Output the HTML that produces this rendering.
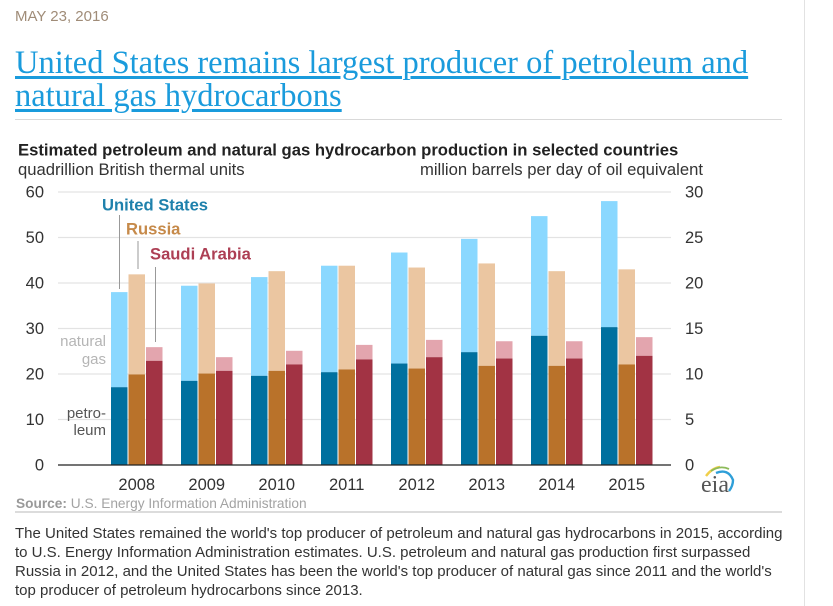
<!DOCTYPE html>
<html>
<head>
<meta charset="utf-8">
<style>
html,body{margin:0;padding:0;background:#fff;}
#page{position:relative;width:833px;height:606px;overflow:hidden;background:#fff;font-family:"Liberation Sans",sans-serif;}
.abs{position:absolute;white-space:nowrap;}
#title{left:15px;top:47px;font:32.5px/33px "Liberation Serif",serif;color:#1a9bdc;}
#title a{color:#1a9bdc;text-decoration:underline;text-decoration-thickness:3px;text-underline-offset:3px;}
#body-text{left:15px;top:524px;font:15px/19px "Liberation Sans",sans-serif;color:#333;}
svg{position:absolute;left:0;top:0;}
svg text{font-family:"Liberation Sans",sans-serif;}
</style>
</head>
<body>
<div id="page">
  <div class="abs" id="date" style="left:15px;top:9px;font-size:15px;line-height:16px;color:#a08c78;">MAY 23, 2016</div>
  <div class="abs" id="title"><a href="#">United States remains largest producer of petroleum and<br>natural gas hydrocarbons</a></div>
  <div class="abs" style="left:15px;top:119px;width:767px;height:1px;background:#d9d9d9;"></div>
  <div class="abs" style="left:804px;top:0;width:1px;height:606px;background:#e2e2e2;"></div>
  <svg id="chart" width="833" height="606" viewBox="0 0 833 606">
    <text x="18" y="155.5" font-size="16.65" font-weight="bold" fill="#222">Estimated petroleum and natural gas hydrocarbon production in selected countries</text>
    <text x="18" y="175" font-size="16.65" fill="#333">quadrillion British thermal units</text>
    <text x="703" y="175" font-size="16.65" fill="#333" text-anchor="end">million barrels per day of oil equivalent</text>
    <g id="grid"></g>
    <g id="bars"></g>
    <g id="xlabels"></g>
    <line x1="119.5" y1="215" x2="119.5" y2="289" stroke="#999" stroke-width="1"></line>
    <line x1="138" y1="241" x2="138" y2="269" stroke="#999" stroke-width="1"></line>
    <line x1="155.5" y1="267" x2="155.5" y2="342" stroke="#999" stroke-width="1"></line>
    <text x="102" y="210.5" font-size="16.6" font-weight="bold" fill="#1f81ac">United States</text>
    <text x="126" y="234.5" font-size="16.6" font-weight="bold" fill="#c68a4a">Russia</text>
    <text x="150" y="259.5" font-size="16.6" font-weight="bold" fill="#ad3f54">Saudi Arabia</text>
    <text x="106" y="346" font-size="15" fill="#b5b5b5" text-anchor="end">natural</text>
    <text x="106" y="364" font-size="15" fill="#b5b5b5" text-anchor="end">gas</text>
    <text x="106" y="418" font-size="15" fill="#555" text-anchor="end">petro-</text>
    <text x="106" y="435" font-size="15" fill="#555" text-anchor="end">leum</text>
    <g>
      <path d="M706 476 Q712 468 720 467" fill="none" stroke="#f0cf4a" stroke-width="2.4"></path>
      <path d="M711 471 Q720 465 729 469" fill="none" stroke="#8dbb5a" stroke-width="1.8"></path>
      <path d="M716 473 Q728 468 733 480 Q733 486 729 491" fill="none" stroke="#2f9fd8" stroke-width="2.4"></path>
      <text x="701" y="492" font-size="24" fill="#555" style="font-family:'Liberation Serif',serif">eia</text>
    </g>
    <text x="16" y="508" font-size="13.7" fill="#a3a3a3"><tspan font-weight="bold" fill="#999">Source:</tspan> U.S. Energy Information Administration</text>
    <rect x="15" y="511" width="767" height="2" fill="#dcdcdc"></rect>
  </svg>
  <div class="abs" id="body-text">The United States remained the world's top producer of petroleum and natural gas hydrocarbons in 2015, according<br>to U.S. Energy Information Administration estimates. U.S. petroleum and natural gas production first surpassed<br>Russia in 2012, and the United States has been the world's top producer of natural gas since 2011 and the world's<br>top producer of petroleum hydrocarbons since 2013.</div>
</div>
<script>
const years = ['2008','2009','2010','2011','2012','2013','2014','2015'];
const usPetroleum = [17.1,18.5,19.6,20.4,22.3,24.8,28.4,30.3];
const usTotal = [38.0,39.4,41.3,43.8,46.7,49.7,54.7,58.0];
const russiaPetroleum = [19.9,20.1,20.7,21.0,21.2,21.8,21.8,22.1];
const russiaTotal = [41.9,39.9,42.6,43.8,43.4,44.3,42.6,43.0];
const saudiPetroleum = [22.9,20.7,22.1,23.2,23.7,23.4,23.4,24.0];
const saudiTotal = [25.9,23.7,25.1,26.4,27.5,27.2,27.2,28.1];
const leftTicks = [0,10,20,30,40,50,60];
const rightTicks = ['0','5','10','15','20','25','30'];

const NS = 'http://www.w3.org/2000/svg';
const yScale = function (v) { return 465 - v * (273 / 60); };
const xScale = function (yearIndex, seriesIndex) { return 111 + yearIndex * 70 + seriesIndex * 17.5; };
const barWidth = 16.5;
const gridGroup = document.getElementById('grid');
const barGroup = document.getElementById('bars');
const labelGroup = document.getElementById('xlabels');

leftTicks.forEach(function (t, i) {
  const y = yScale(t);
  if (t !== 0) {
    const line = document.createElementNS(NS, 'line');
    
    
    line.setAttribute('x1', 58);
    line.setAttribute('x2', 671);
    line.setAttribute('y1', y);
    line.setAttribute('y2', y);
    line.setAttribute('stroke', '#e3e3e3');
    line.setAttribute('stroke-width', '1.2');
    gridGroup.appendChild(line);
  }
  const left = document.createElementNS(NS, 'text');
  
  
  left.setAttribute('x', 44);
  left.setAttribute('y', y + 5.5);
  left.setAttribute('text-anchor', 'end');
  left.setAttribute('font-size', '16.5');
  left.setAttribute('fill', '#333');
  left.textContent = t;
  gridGroup.appendChild(left);
  const right = document.createElementNS(NS, 'text');
  
  
  right.setAttribute('x', 685);
  right.setAttribute('y', y + 5.5);
  right.setAttribute('font-size', '16.5');
  right.setAttribute('fill', '#333');
  right.textContent = rightTicks[i];
  gridGroup.appendChild(right);
});

const seriesList = [
  { key: 'us', petroleum: usPetroleum, total: usTotal, dark: '#00709f', light: '#8ad8ff' },
  { key: 'russia', petroleum: russiaPetroleum, total: russiaTotal, dark: '#b9722a', light: '#ebc6a1' },
  { key: 'saudi', petroleum: saudiPetroleum, total: saudiTotal, dark: '#a23344', light: '#e3a5ae' }
];

function addBar(parent, name, x, fromValue, toValue, color) {
  const r = document.createElementNS(NS, 'rect');
  
  
  r.setAttribute('x', x);
  r.setAttribute('width', barWidth);
  r.setAttribute('y', yScale(toValue));
  r.setAttribute('height', yScale(fromValue) - yScale(toValue));
  r.setAttribute('fill', color);
  parent.appendChild(r);
}

years.forEach(function (year, i) {
  seriesList.forEach(function (s, j) {
    const x = xScale(i, j);
    addBar(barGroup, 'bar-' + s.key + '-natural-gas-' + year, x, s.petroleum[i], s.total[i], s.light);
    addBar(barGroup, 'bar-' + s.key + '-petroleum-' + year, x, 0, s.petroleum[i], s.dark);
  });
  const label = document.createElementNS(NS, 'text');
  
  
  label.setAttribute('x', xScale(i, 1) + barWidth / 2);
  label.setAttribute('y', 490);
  label.setAttribute('text-anchor', 'middle');
  label.setAttribute('font-size', '16.5');
  label.setAttribute('fill', '#333');
  label.textContent = year;
  labelGroup.appendChild(label);
});

const axis = document.createElementNS(NS, 'line');


axis.setAttribute('x1', 58);
axis.setAttribute('x2', 671);
axis.setAttribute('y1', yScale(0));
axis.setAttribute('y2', yScale(0));
axis.setAttribute('stroke', '#222');
axis.setAttribute('stroke-width', '1.3');
barGroup.appendChild(axis);
</script>
</body>
</html>
